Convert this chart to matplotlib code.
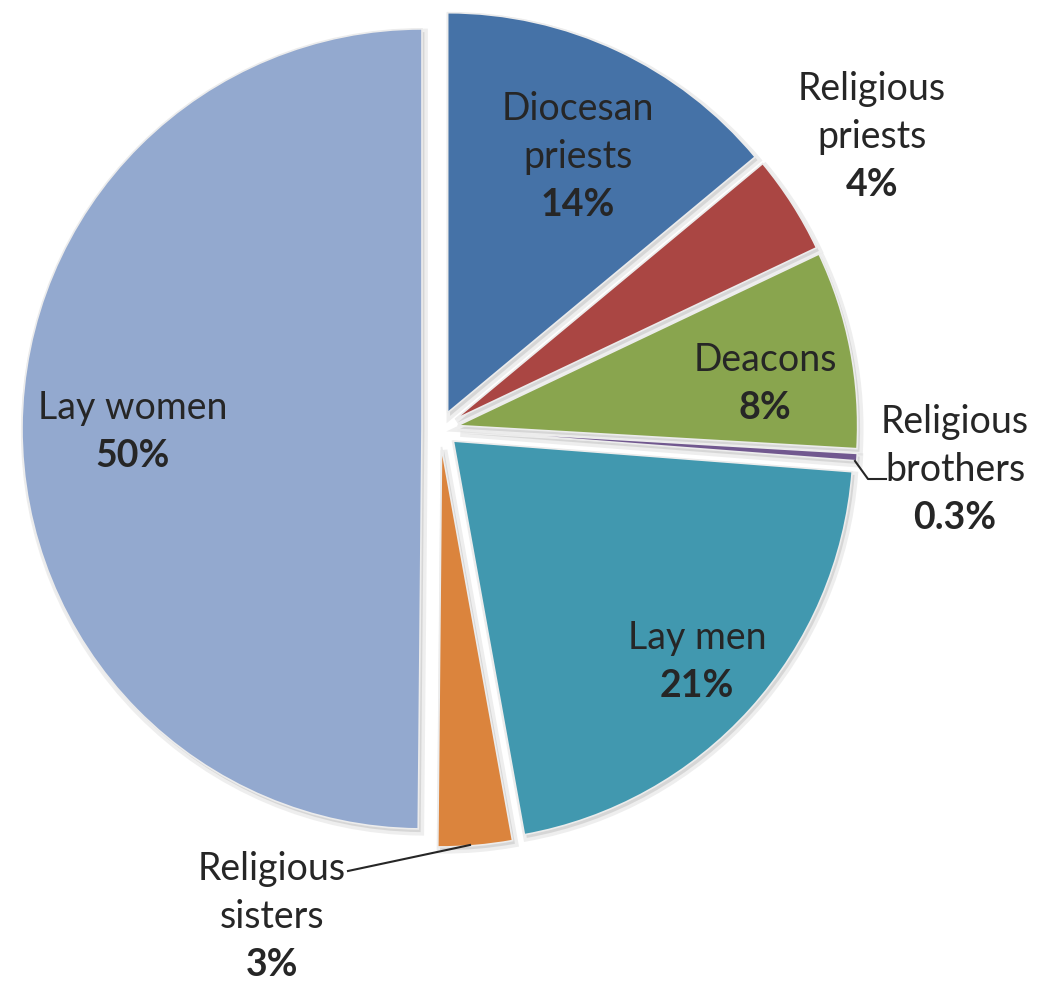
import matplotlib
matplotlib.use('Agg')
import matplotlib.pyplot as plt

# slices, clockwise from 12 o'clock
categories = ['Diocesan\npriests', 'Religious\npriests', 'Deacons', 'Religious\nbrothers',
              'Lay men', 'Religious\nsisters', 'Lay women']
shares = [14, 4, 8, 0.3, 21, 3, 50]
share_labels = ['14%', '4%', '8%', '0.3%', '21%', '3%', '50%']
colors = ['#4572A7', '#AA4643', '#89A54E', '#71588F', '#4198AF', '#DB843D', '#93A9CF']

# label block centres, in image pixels (x, y from top)
label_pixels = [(578, 157), (872, 137), (765, 384), (955, 470),
                (697, 662), (272, 917), (133, 432)]
LINE_STEP = 48  # pixels between label lines

W, H = 1048, 987
CX, CY, R = 440, 430, 400  # pie centre and radius in pixels


def to_data(px, py):
    return (px - CX) / R, (CY - py) / R


fig = plt.figure(figsize=(W / 100, H / 100), dpi=100)
ax = fig.add_axes([0, 0, 1, 1])

explode = [0.045] * len(shares)

# soft shadow underneath
ax.pie(shares, colors=['#9a9a9a'] * len(shares), startangle=90, counterclock=False,
       explode=explode, radius=1.0, center=(0.006, -0.008),
       wedgeprops=dict(edgecolor='#cfcfcf', linewidth=5, alpha=0.35))
wedges, _ = ax.pie(shares, colors=colors, startangle=90, counterclock=False,
                   explode=explode, radius=1.0, center=(0, 0),
                   wedgeprops=dict(edgecolor='#ececec', linewidth=1.2))

font = 'Lato'
for name, pct, (px, py) in zip(categories, share_labels, label_pixels):
    lines = name.split('\n') + [pct]
    n = len(lines)
    for i, line in enumerate(lines):
        x, y = to_data(px, py + (i - (n - 1) / 2) * LINE_STEP)
        bold = i == n - 1
        ax.text(x, y, line, ha='center', va='center', fontsize=27, family=font,
                fontweight='bold' if bold else 'normal', color='#262626')

# leader lines for the two small slices
bx, by = zip(*[to_data(855, 462), to_data(868, 480), to_data(886, 480)])
ax.plot(bx, by, color='#262626', linewidth=1.5)
sx, sy = zip(*[to_data(470, 846), to_data(348, 872)])
ax.plot(sx, sy, color='#262626', linewidth=1.5)

ax.set_xlim(-CX / R, (W - CX) / R)
ax.set_ylim(-(H - CY) / R, CY / R)
ax.set_aspect('equal')
ax.axis('off')

fig.savefig('out.png', dpi=100, facecolor='white')
